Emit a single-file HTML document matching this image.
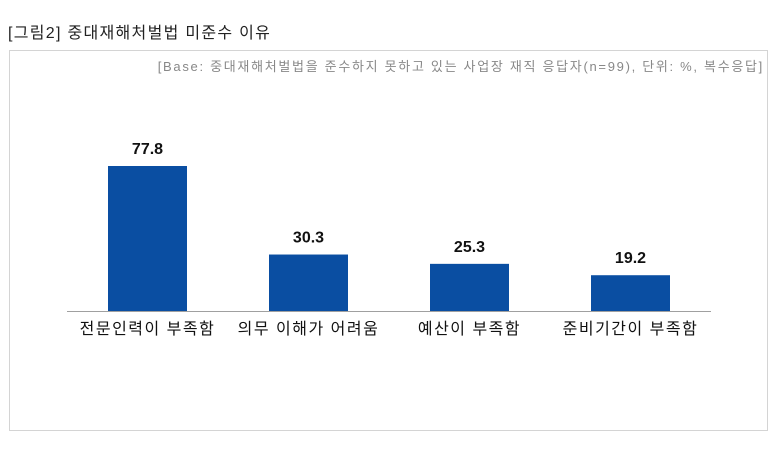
<!DOCTYPE html>
<html><head><meta charset="utf-8"><style>
body{margin:0;width:780px;height:452px;background:#fff;font-family:"Liberation Sans","Noto Sans CJK KR",sans-serif;position:relative;overflow:hidden}
#title{position:absolute;left:8px;top:19px;font-size:16px;letter-spacing:1.3px;color:#222}
#frame{position:absolute;left:9px;top:50px;width:759px;height:381px;border:1px solid #d4d4d4;box-sizing:border-box}
#base{position:absolute;right:16px;top:56px;font-size:13px;letter-spacing:1.7px;color:#888;white-space:nowrap}
svg{position:absolute;left:0;top:0}
</style></head><body>
<div id="title">[그림2] 중대재해처벌법 미준수 이유</div>
<div id="frame"></div>
<div id="base">[Base: 중대재해처벌법을 준수하지 못하고 있는 사업장 재직 응답자(n=99), 단위: %, 복수응답]</div>
<svg id="chart" width="780" height="452"></svg>
<script>
const categories=["전문인력이 부족함","의무 이해가 어려움","예산이 부족함","준비기간이 부족함"];
const values=[77.8,30.3,25.3,19.2];
const valueLabels=["77.8","30.3","25.3","19.2"];
const svg=document.getElementById('chart');
const NS='http://www.w3.org/2000/svg';
const baseY=311,scale=145/77.8,x0=67,step=161,bw=79;
function y(v){return baseY-v*scale;}
function xc(i){return x0+step*(i+0.5);}
function mk(t,a){const e=document.createElementNS(NS,t);for(const k in a)e.setAttribute(k,a[k]);svg.appendChild(e);return e;}
values.forEach((v,i)=>{
 const r=mk('rect',{x:xc(i)-bw/2,y:y(v),width:bw,height:baseY-y(v),fill:'#0a4ea2'});
 
 
 const t=mk('text',{x:xc(i),y:y(v)-12,'text-anchor':'middle','font-size':'16','font-weight':'bold',fill:'#111'});
 t.textContent=valueLabels[i];
 
 
 const c=mk('text',{x:xc(i),y:334,'text-anchor':'middle','font-size':'16','letter-spacing':'1.5',fill:'#111'});
 c.textContent=categories[i];
 
 
});
const ax=mk('line',{x1:x0,x2:x0+step*4,y1:baseY+0.5,y2:baseY+0.5,stroke:'#a0a0a0','stroke-width':1});


</script>
</body></html>
